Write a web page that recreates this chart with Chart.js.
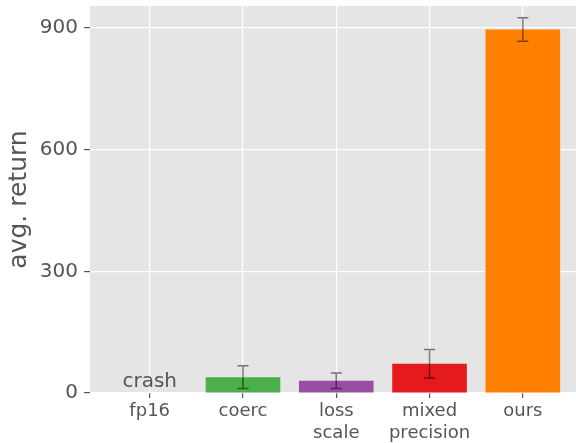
<!DOCTYPE html>
<html>
<head>
<meta charset="utf-8">
<script src="https://cdn.jsdelivr.net/npm/chart.js@4.4.1/dist/chart.umd.min.js"></script>
<style>
  html, body { margin: 0; padding: 0; background: #ffffff; overflow: hidden; }
  #wrap { width: 576px; height: 443px; }
</style>
</head>
<body>
<div id="wrap"><canvas id="c" width="576" height="443"></canvas></div>
<script>
// ---- data ----
const categories = [["fp16"], ["coerc"], ["loss", "scale"], ["mixed", "precision"], ["ours"]];
const avgReturn  = [0, 39, 30, 72, 896];
const errors     = [null, 28, 19, 35, 29];
const barColors  = ["#e5e5e5", "#4daf4a", "#984ea3", "#e41a1c", "#ff7f00"];
const yTicks     = [0, 300, 600, 900];
const notes      = ["crash", null, null, null, null];

const positions = categories.map((_, i) => i);

const FONT = "'DejaVu Sans', sans-serif";
const TXT = "#555555";

const bgPlugin = {
  id: "bg",
  beforeDraw(chart) {
    const { ctx, chartArea: a } = chart;
    ctx.save();
    ctx.fillStyle = "#e5e5e5";
    ctx.fillRect(a.left, a.top, a.right - a.left, a.bottom - a.top);
    ctx.restore();
  }
};

const errPlugin = {
  id: "errbars",
  afterDatasetsDraw(chart) {
    const { ctx } = chart;
    const xs = chart.scales.x, ys = chart.scales.y;
    ctx.save();
    ctx.strokeStyle = "rgba(0,0,0,0.5)";
    ctx.lineWidth = 1.5;
    positions.forEach((p, i) => {
      const e = errors[i];
      if (e == null) return;
      const x = xs.getPixelForValue(p);
      const y1 = ys.getPixelForValue(avgReturn[i] + e);
      const y0 = ys.getPixelForValue(avgReturn[i] - e);
      ctx.beginPath();
      ctx.moveTo(x, y0); ctx.lineTo(x, y1);
      ctx.moveTo(x - 5.5, y1); ctx.lineTo(x + 5.5, y1);
      ctx.moveTo(x - 5.5, y0); ctx.lineTo(x + 5.5, y0);
      ctx.stroke();
    });
    ctx.fillStyle = TXT;
    ctx.font = "20px " + FONT;
    ctx.textAlign = "center";
    ctx.textBaseline = "alphabetic";
    positions.forEach((p, i) => {
      if (!notes[i]) return;
      const x = xs.getPixelForValue(p);
      const y = ys.getPixelForValue(avgReturn[i]) - 6;
      ctx.fillText(notes[i], x, y);
    });
    ctx.restore();
  }
};

new Chart(document.getElementById("c"), {
  type: "bar",
  data: {
    datasets: [{
      data: positions.map((p, i) => ({ x: p, y: avgReturn[i] })),
      backgroundColor: barColors,
      borderWidth: 0,
      categoryPercentage: 0.8,
      barPercentage: 1.0
    }]
  },
  options: {
    responsive: false,
    animation: false,
    devicePixelRatio: 1,
    layout: { padding: { top: 6, right: 0, left: 0, bottom: 0 } },
    plugins: { legend: { display: false }, tooltip: { enabled: false } },
    scales: {
      x: {
        type: "linear",
        min: -0.64,
        max: 4.57,
        offset: false,
        afterBuildTicks(s) { s.ticks = positions.map(v => ({ value: v })); },
        afterFit(s) { s.height = 50; s.paddingLeft = 0; s.paddingRight = 0; },
        grid: { offset: false, color: "#ffffff", lineWidth: 1.2, tickColor: "#555555", tickLength: 5, drawOnChartArea: true },
        border: { display: false },
        ticks: {
          autoSkip: false,
          maxRotation: 0,
          padding: 3,
          color: TXT,
          font: { family: FONT, size: 18 },
          callback: (v) => categories[Math.round(v)]
        }
      },
      y: {
        min: 0,
        max: 954,
        afterBuildTicks(s) { s.ticks = yTicks.map(v => ({ value: v })); },
        afterFit(s) { s.width = 90; s.paddingTop = 0; s.paddingBottom = 0; },
        grid: { color: "#ffffff", lineWidth: 1.2, tickColor: "#555555", tickLength: 6 },
        border: { display: false },
        ticks: { color: TXT, padding: 6, font: { family: FONT, size: 20 } },
        title: {
          display: true,
          text: "avg. return",
          color: TXT,
          font: { family: FONT, size: 25 },
          padding: { top: 4, bottom: 0 }
        }
      }
    }
  },
  plugins: [bgPlugin, errPlugin]
});
</script>
</body>
</html>
